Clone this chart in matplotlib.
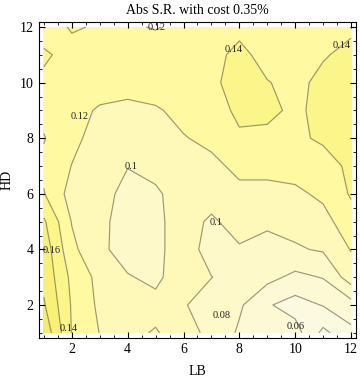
import numpy as np
import matplotlib
matplotlib.use('Agg')
import matplotlib.pyplot as plt
from matplotlib.ticker import MultipleLocator

"""
    Abs S.R. with cost 0.35% -- contour map over LB / HD grid
"""

lb = np.arange(1, 13)
hd = np.arange(1, 13)

# rows: HD = 1 .. 12, columns: LB = 1 .. 12
sr_hd1 = [0.195, 0.139, 0.1195, 0.103, 0.099, 0.106, 0.096, 0.077, 0.074, 0.068, 0.035, 0.055]
sr_hd2 = [0.182, 0.138, 0.116, 0.108, 0.104, 0.102, 0.088, 0.083, 0.062, 0.052, 0.061, 0.072]
sr_hd3 = [0.175, 0.135, 0.114, 0.101, 0.097, 0.108, 0.1005, 0.090, 0.086, 0.075, 0.081, 0.110]
sr_hd4 = [0.172, 0.125, 0.103, 0.094, 0.094, 0.112, 0.090, 0.098, 0.094, 0.098, 0.102, 0.121]
sr_hd5 = [0.163, 0.119, 0.104, 0.093, 0.096, 0.108, 0.097, 0.108, 0.103, 0.106, 0.113, 0.132]
sr_hd6 = [0.141, 0.112, 0.106, 0.095, 0.097, 0.109, 0.108, 0.116, 0.115, 0.116, 0.124, 0.142]
sr_hd7 = [0.136, 0.1195, 0.108, 0.1005, 0.106, 0.112, 0.116, 0.124, 0.125, 0.128, 0.126, 0.147]
sr_hd8 = [0.141, 0.125, 0.112, 0.110, 0.112, 0.119, 0.124, 0.136, 0.134, 0.134, 0.145, 0.152]
sr_hd9 = [0.135, 0.126, 0.118, 0.116, 0.118, 0.125, 0.127, 0.146, 0.146, 0.135, 0.148, 0.155]
sr_hd10 = [0.136, 0.131, 0.128, 0.126, 0.129, 0.132, 0.136, 0.148, 0.141, 0.134, 0.146, 0.152]
sr_hd11 = [0.143, 0.133, 0.132, 0.128, 0.128, 0.130, 0.133, 0.146, 0.132, 0.130, 0.138, 0.146]
sr_hd12 = [0.130, 0.142, 0.138, 0.122, 0.119, 0.124, 0.130, 0.134, 0.130, 0.128, 0.130, 0.136]

levels = [0.02, 0.04, 0.06, 0.08, 0.10, 0.12, 0.14, 0.16, 0.18, 0.20]
band_colors = ['#fbf9ea', '#fbf9e0', '#fcf9d4', '#fdf9c8', '#fef9b8',
               '#fff9a2', '#fcf58a', '#f9f07a', '#f6eb6a']

# contour labels (text, LB, HD)
lab_text = ['0.12', '0.14', '0.14', '0.12', '0.1', '0.1', '0.16', '0.14', '0.08', '0.06']
lab_lb = [5.05, 7.81, 11.65, 2.29, 4.12, 7.16, 1.29, 1.90, 7.38, 10.03]
lab_hd = [11.97, 11.18, 11.32, 8.77, 6.97, 4.96, 3.95, 1.14, 1.61, 1.22]

Z = np.array([sr_hd1, sr_hd2, sr_hd3, sr_hd4, sr_hd5, sr_hd6,
              sr_hd7, sr_hd8, sr_hd9, sr_hd10, sr_hd11, sr_hd12])
X, Y = np.meshgrid(lb, hd)

plt.rcParams['font.family'] = ['Liberation Serif', 'DejaVu Serif']

fig = plt.figure(figsize=(3.6, 3.8), dpi=100)
ax = fig.add_axes([0.108, 0.111, 0.881, 0.831])

ax.contourf(X, Y, Z, levels=levels, colors=band_colors)
ax.contour(X, Y, Z, levels=levels, colors='#5a5a48', linewidths=0.85, alpha=0.6)

for t, x, y in zip(lab_text, lab_lb, lab_hd):
    ax.text(x, y, t, fontsize=7.5, ha='center', va='center', color='#222222')

ax.set_xlim(0.82, 12.18)
ax.set_ylim(0.82, 12.18)

ax.xaxis.set_major_locator(MultipleLocator(2))
ax.yaxis.set_major_locator(MultipleLocator(2))
ax.xaxis.set_minor_locator(MultipleLocator(0.5))
ax.yaxis.set_minor_locator(MultipleLocator(0.5))
ax.tick_params(which='both', direction='in', top=True, right=True, labelsize=10, pad=4)
ax.tick_params(which='major', length=4, width=0.8)
ax.tick_params(which='minor', length=2.2, width=0.6)

ax.set_title('Abs S.R. with cost 0.35%', fontsize=10, pad=6)
ax.set_xlabel('LB', fontsize=10, labelpad=6)
ax.set_ylabel('HD', fontsize=10, labelpad=4)

fig.savefig('out.png', dpi=100)
